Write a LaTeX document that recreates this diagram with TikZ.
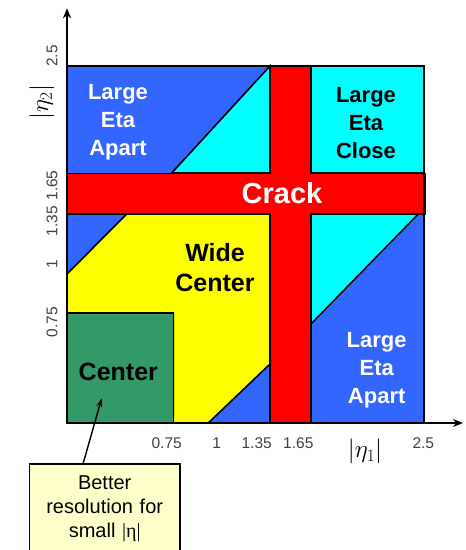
\documentclass[tikz,border=0pt]{standalone}
\usepackage{fontspec}
\setmainfont{Liberation Sans}
\newfontfamily\etafont{Liberation Serif}
\usetikzlibrary{arrows.meta,calc}
\definecolor{regblue}{RGB}{51,102,255}
\definecolor{regcyan}{RGB}{0,255,255}
\definecolor{regred}{RGB}{255,0,0}
\definecolor{regyellow}{RGB}{255,255,0}
\definecolor{reggreen}{RGB}{51,153,102}
\definecolor{notefill}{RGB}{255,255,204}
\definecolor{tickgray}{RGB}{64,64,64}
\tikzset{
  region/.style={draw=black,line width=1.6pt,line join=miter},
  lbl/.style={align=center,font=\fontsize{22}{28}\selectfont\bfseries},
  biglbl/.style={align=center,font=\fontsize{25}{30}\selectfont\bfseries},
  tick/.style={text=tickgray,inner sep=0pt,font=\fontsize{15.5}{18}\selectfont},
  axlbl/.style={font=\fontsize{23}{25}\selectfont},
  axis/.style={line width=1.8pt,-{Stealth[length=10pt,width=8pt]}},
  note/.style={draw=black,line width=1.6pt,fill=notefill,align=center,
    text width=138pt,inner xsep=6pt,inner ysep=12pt,font=\fontsize{20}{24}\selectfont}
}

\begin{document}
\begin{tikzpicture}[x=1pt,y=1pt]
\useasboundingbox (-67,-127) rectangle (399,423);
% regions of the eta plane
\fill[regblue] (0,0) rectangle (357,357);
\filldraw[fill=regcyan,region] (104.7,250)--(203,357)--(203,250)--cycle;
\filldraw[fill=regcyan,region] (244,250) rectangle (357,357);
\filldraw[fill=regcyan,region] (244,99)--(351.3,209)--(244,209)--cycle;
\filldraw[fill=regyellow,region] (0,149)--(59.7,209)--(203,209)--(203,59)--(141.3,0)
  --(106.3,0)--(106.3,110)--(0,110)--cycle;
\filldraw[fill=reggreen,region] (0,0) rectangle (106.3,110);
% crack cross
\filldraw[fill=regred,region] (203,357)--(244,357)--(244,249.7)--(358,249.7)--(358,209)
  --(244,209)--(244,0)--(203,0)--(203,209)--(0,209)--(0,249.7)--(203,249.7)--cycle;
\draw[region] (0,0) rectangle (357,357);
% axes
\coordinate (O) at (0,0);\coordinate (xtip) at (396,0);\coordinate (ytip) at (0,414.7);
\draw[axis] (O)--(xtip);\draw[axis] (O)--(ytip);
% region names
\node[lbl,text=white] (apartTL) at (51,301) {Large\\Eta\\Apart};
\node[lbl] (closeTR) at (299,300) {Large\\Eta\\Close};
\node[lbl,text=white] (apartBR) at (309.7,53) {Large\\Eta\\Apart};
\node[font=\fontsize{29}{30}\selectfont\bfseries,text=white] (crack) at (215,229.7) {Crack};
\node[biglbl] (wide) at (148,155) {Wide\\Center};
\node[biglbl] (center) at (51.3,51.3) {Center};
% ticks
\node[tick] (x075) at (99.7,-19.7) {0.75};\node[tick] (x1) at (149.7,-19.7) {1};
\node[tick] (x135) at (189.7,-19.7) {1.35};\node[tick] (x165) at (231.3,-19.7) {1.65};
\node[tick] (x25) at (356.3,-19.7) {2.5};
\node[tick,rotate=90] (y25) at (-15,367) {2.5};\node[tick,rotate=90] (y165) at (-15,237.5) {1.65};
\node[tick,rotate=90] (y135) at (-15,202) {1.35};\node[tick,rotate=90] (y1) at (-15,159) {1};
\node[tick,rotate=90] (y075) at (-15,101) {0.75};
\node[axlbl] (xlab) at (298,-28.7) {$|\eta_1|$};
\node[axlbl,rotate=90] (ylab) at (-25,321) {$|\eta_2|$};
% note
\node[note,anchor=north] (better) at (37.7,-40.3) {Better\\resolution for\\small {\etafont|η|}};
\coordinate (aim) at (34.7,24.7);
\draw[line width=1.4pt,-{Stealth[length=9pt,width=6pt]}] ($(better.north west)!0.358!(better.north east)$)--(aim);
\end{tikzpicture}
\end{document}
